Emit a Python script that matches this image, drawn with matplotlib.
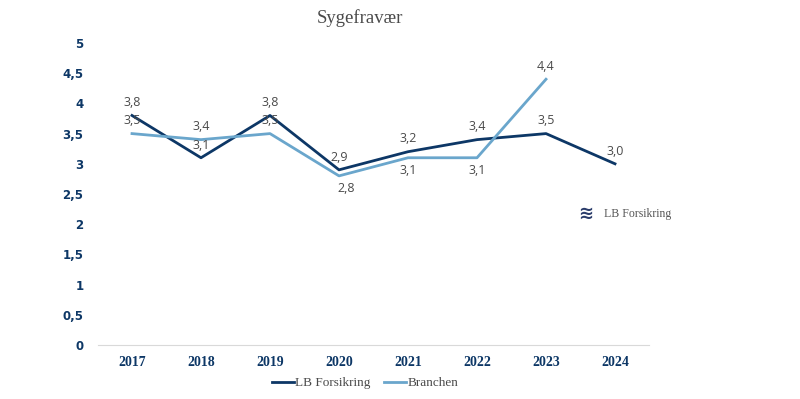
import matplotlib.pyplot as plt
from matplotlib.ticker import FuncFormatter

years = ['2017', '2018', '2019', '2020', '2021', '2022', '2023', '2024']
lb_values = [3.8, 3.1, 3.8, 2.9, 3.2, 3.4, 3.5, 3.0]
branchen_years = ['2017', '2018', '2019', '2020', '2021', '2022', '2023']
branchen_values = [3.5, 3.4, 3.5, 2.8, 3.1, 3.1, 4.4]
# label placement for Branchen: +1 above, -1 below
branchen_pos = [1, 1, 1, -1, -1, -1, 1]

LB_COLOR = '#0d3766'
BR_COLOR = '#6aa6cc'
TXT = '#4a4a4a'

fig = plt.figure(figsize=(8, 3.99), dpi=100)
ax = fig.add_axes([97.5 / 800, 54 / 399, 552 / 800, 302 / 399])

x = list(range(len(years)))
xb = list(range(len(branchen_years)))
ax.plot(x, lb_values, color=LB_COLOR, lw=2, label='LB Forsikring')
ax.plot(xb, branchen_values, color=BR_COLOR, lw=2, label='Branchen')

fmt = lambda v: f'{v:.1f}'.replace('.', ',')
for xi, v in zip(x, lb_values):
    ax.annotate(fmt(v), (xi, v), xytext=(0, 4.5), textcoords='offset points',
                ha='center', va='bottom', fontsize=9, color=TXT, family='Open Sans')
for xi, v, p in zip(xb, branchen_values, branchen_pos):
    dx = 5 if xi == 3 else 0
    ax.annotate(fmt(v), (xi, v), xytext=(dx, 4.5 * p), textcoords='offset points',
                ha='center', va='bottom' if p > 0 else 'top', fontsize=9, color=TXT,
                family='Open Sans')

ax.set_xlim(-0.5, len(years) - 0.5)
ax.set_ylim(0, 5)
ax.set_xticks(x)
ax.set_xticklabels(years, fontsize=10, fontweight='bold', color=LB_COLOR, family='Liberation Serif')
ax.set_yticks([i * 0.5 for i in range(11)])
ax.yaxis.set_major_formatter(FuncFormatter(lambda v, _: f'{v:g}'.replace('.', ',')))
for lab in ax.get_yticklabels():
    lab.set_fontsize(8.5)
    lab.set_fontweight('bold')
    lab.set_color(LB_COLOR)
ax.tick_params(axis='both', length=0)
ax.tick_params(axis='y', pad=10)
ax.tick_params(axis='x', pad=8)
for s in ['top', 'right', 'left']:
    ax.spines[s].set_visible(False)
ax.spines['bottom'].set_color('#d9d9d9')

fig.text(360 / 800, 1 - 18 / 399, 'Sygefravær', ha='center', va='center',
         fontsize=13.5, color=TXT, family='Liberation Serif')

fig.legend(loc='center', bbox_to_anchor=(365 / 800, 1 - 383 / 399), ncol=2, frameon=False,
           prop={'family': 'Liberation Serif', 'size': 9.5}, handlelength=1.7,
           handletextpad=0.1, columnspacing=1.0, labelcolor=TXT)

# logo
fig.text(604 / 800, 1 - 214 / 399, 'LB Forsikring', ha='left', va='center',
         fontsize=8.5, color='#555555', family='Liberation Serif')
fig.text(586 / 800, 1 - 214 / 399, '≋', ha='center', va='center',
         fontsize=13, color='#2b3d6b', fontweight='bold')

fig.savefig('out.png', dpi=100)
